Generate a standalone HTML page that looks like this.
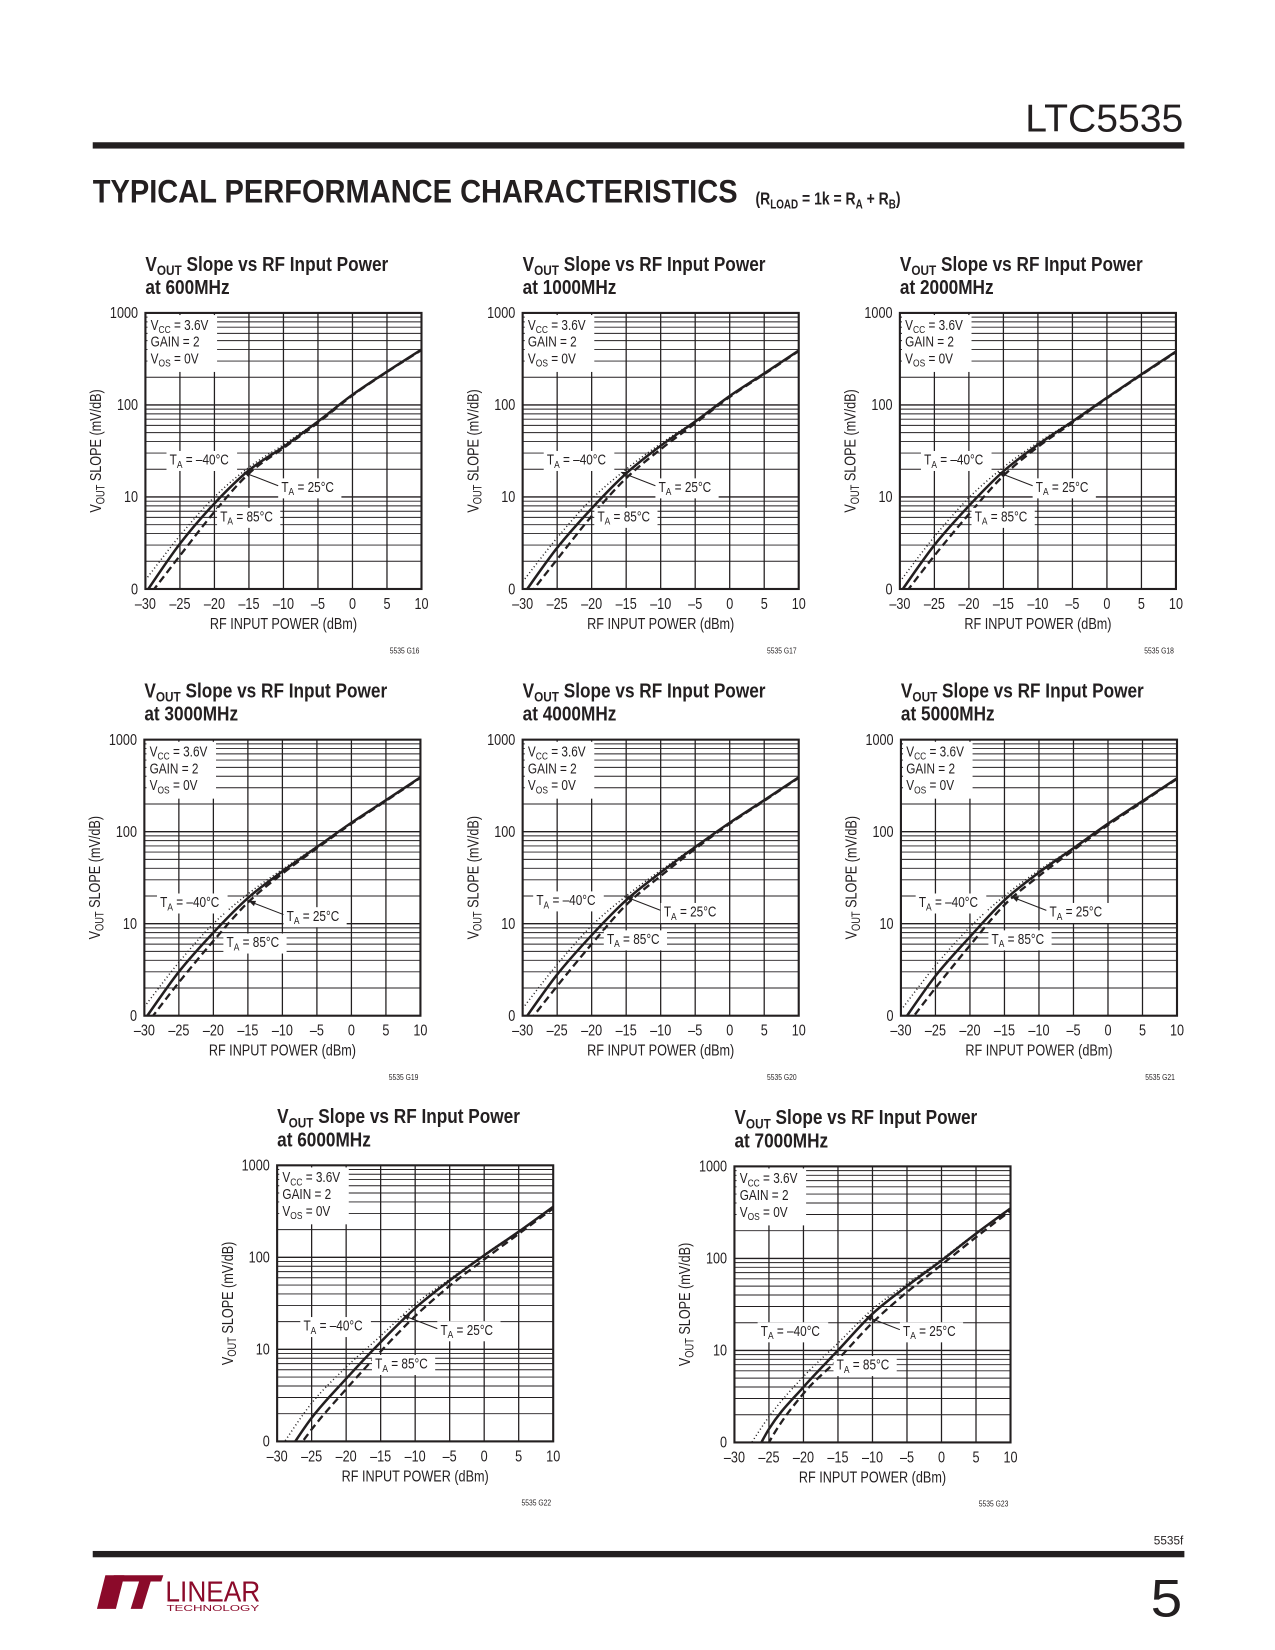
<!DOCTYPE html>
<html><head><meta charset="utf-8">
<style>
html,body{margin:0;padding:0;background:#fff;}
svg{display:block;}
text{font-family:"Liberation Sans",sans-serif;fill:#231f20;}
</style></head>
<body>
<svg id="page" width="1275" height="1650" viewBox="0 0 1210 1566" preserveAspectRatio="none" xmlns="http://www.w3.org/2000/svg">
<text x="1123" y="125" text-anchor="end" font-size="37" textLength="150" lengthAdjust="spacingAndGlyphs" fill="#231f20">LTC5535</text>
<rect x="88" y="135" width="1036" height="6" fill="#231f20"/>
<text x="88" y="192" font-size="31" font-weight="bold" textLength="612" lengthAdjust="spacingAndGlyphs">TYPICAL PERFORMANCE CHARACTERISTICS</text>
<g transform="translate(717 194) scale(0.78 1)">
<text x="0" y="0" font-size="17" font-weight="bold">(R<tspan font-size="12" dy="4">LOAD</tspan><tspan dy="-4"> = 1k = R</tspan><tspan font-size="12" dy="4">A</tspan><tspan dy="-4"> + R</tspan><tspan font-size="12" dy="4">B</tspan><tspan dy="-4">)</tspan></text>
</g>
<g id="charts"></g>
<text x="1123" y="1466" text-anchor="end" font-size="11" textLength="28" lengthAdjust="spacingAndGlyphs">5535f</text>
<rect x="88" y="1472" width="1036" height="6" fill="#231f20"/>
<g>
<path d="M100 1495 L118 1495 L110 1527 L92 1527 Z" fill="#8b0a2a"/>
<path d="M108 1495 L155 1495 L153 1501 L143 1501 L135 1527 L124 1527 L132 1501 L106 1501 Z" fill="#8b0a2a"/>
<text x="157" y="1520" font-size="27" textLength="90" lengthAdjust="spacingAndGlyphs" style="fill:#8b0a2a">LINEAR</text>
<text x="158" y="1529" font-size="8" textLength="88" lengthAdjust="spacingAndGlyphs" style="fill:#8b0a2a">TECHNOLOGY</text>
</g>
<text x="1122" y="1534" text-anchor="end" font-size="50" textLength="30" lengthAdjust="spacingAndGlyphs">5</text>
</svg>
<script>
const NS="http://www.w3.org/2000/svg";
const xPower=[-30,-25,-20,-15,-10,-5,0,5,10];
const xTicks=[-30,-25,-20,-15,-10,-5,0,5,10];
const yTickVals=[1,10,100,1000];
const yTickLabels=["0","10","100","1000"];
const freqs=["600MHz","1000MHz","2000MHz","3000MHz","4000MHz","5000MHz","6000MHz","7000MHz"];
const codes=["5535 G16","5535 G17","5535 G18","5535 G19","5535 G20","5535 G21","5535 G22","5535 G23"];
// slope values (mV/dB): 25°C solid, -40°C dotted, 85°C dashed
const s25=[
[0.9,3.1,8.5,19.5,35,66,129,230,400],
[0.85,2.8,7.5,18,36,66,125,220,390],
[0.9,3.0,8,19,37,66,120,215,380],
[0.9,3.0,8,19,37,68,125,220,390],
[0.85,2.8,7.5,18,36,68,125,220,390],
[0.8,2.7,7.2,18,36,66,122,215,380],
[0.5,1.8,4.8,12,28,56,105,190,355],
[0.25,1.4,4.0,10,25,50,95,186,350]];
const sM40=[
[1.25,3.8,10,21,37,67,130,231,400],
[1.2,3.6,9.5,20,38,67,126,221,390],
[1.2,3.7,9.8,21,39,67,121,216,380],
[1.25,3.8,10,21,39,69,126,221,390],
[1.2,3.6,9.5,20,38,69,126,221,390],
[1.15,3.5,9.2,20,38,67,123,216,380],
[0.75,2.6,6.4,14,31,58,107,192,356],
[0.5,1.9,5.2,12,28,53,98,188,352]];
const s85=[
[0.75,2.3,6.9,18,34,64,127,228,395],
[0.7,2.1,6.2,16,33,63,122,216,385],
[0.75,2.3,6.5,17,35,64,118,212,375],
[0.75,2.3,6.5,17,35,66,122,216,385],
[0.7,2.1,6,16,33,65,122,216,385],
[0.65,2.0,5.8,16,33,63,118,210,375],
[0.4,1.35,3.7,9.5,23,49,95,180,340],
[0.15,1.0,3.4,8,20,43,85,170,330]];
const frames=[[138,297],[496,297],[854,297],[137,702],[496,702],[855,702],[263,1106],[697,1107]];
const labelPos=[
[23,144,129,170,71,198],[23,144,129,170,71,198],[23,144,129,170,71,198],
[15,159,135,172,78,197],[13,157,134,168,80,194],[17,159,141,168,86,194],
[25,157,155,161,93,193],[25,161,160,161,97,193]];
const W=262,H=262,SX=0.8;
function el(tag,attrs,parent){const e=document.createElementNS(NS,tag);for(const k in attrs)e.setAttribute(k,attrs[k]);parent.appendChild(e);return e;}
function txt(parent,x,y,size,anchor,html,bold,sx){const gg=el("g",{transform:`translate(${x} ${y}) scale(${sx||SX} 1)`},parent);
 const e=el("text",{x:0,y:0,"font-size":size,"text-anchor":anchor||"start"},gg);if(bold)e.setAttribute("font-weight","bold");e.innerHTML=html;return e;}
function pathFrom(pts){let d="M"+pts[0][0].toFixed(2)+" "+pts[0][1].toFixed(2);
for(let i=0;i<pts.length-1;i++){const p0=pts[Math.max(0,i-1)],p1=pts[i],p2=pts[i+1],p3=pts[Math.min(pts.length-1,i+2)];
const c1=[p1[0]+(p2[0]-p0[0])/6,p1[1]+(p2[1]-p0[1])/6],c2=[p2[0]-(p3[0]-p1[0])/6,p2[1]-(p3[1]-p1[1])/6];
d+=" C"+c1[0].toFixed(2)+" "+c1[1].toFixed(2)+" "+c2[0].toFixed(2)+" "+c2[1].toFixed(2)+" "+p2[0].toFixed(2)+" "+p2[1].toFixed(2);}return d;}
const root=document.getElementById("charts");
frames.forEach((f,ci)=>{
 const L=f[0],T=f[1],B=T+H,R=L+W;
 const xs=v=>L+(v+30)/40*W;
 const ys=v=>B-Math.log10(v)/3*H;
 const g=el("g",{},root);
 
 
 const t=txt(g,L,T-40,19,"start",'V<tspan font-size="13" dy="4">OUT</tspan><tspan dy="-4"> Slope vs RF Input Power</tspan>',true,0.86);
 
 
 const t2=txt(g,L,T-18,19,"start","at "+freqs[ci],true,0.86);
 
 
 const cid="clip"+ci;
 const cp=el("clipPath",{id:cid},g);el("rect",{x:L,y:T,width:W,height:H},cp);
 for(let d=0;d<3;d++)for(let m=1;m<=10;m++){const v=Math.pow(10,d)*m;if(m===10&&d<2)continue;
  const ln=el("line",{x1:L,x2:R,y1:ys(v),y2:ys(v),stroke:"#231f20","stroke-width":m===1?1.3:0.9},g);
  
  }
 xTicks.forEach(v=>{const ln=el("line",{x1:xs(v),x2:xs(v),y1:T,y2:B,stroke:"#231f20","stroke-width":1.2},g);
  
  });
 el("rect",{x:L,y:T,width:W,height:H,fill:"none",stroke:"#231f20","stroke-width":2},g);
 el("rect",{x:L+2,y:T+2,width:66,height:54,fill:"#fff"},g);
 const lg=txt(g,L+5,T+16,14,"start",'V<tspan font-size="10" dy="3">CC</tspan><tspan dy="-3"> = 3.6V</tspan>');
 
 
 txt(g,L+5,T+32,14,"start","GAIN = 2");
 txt(g,L+5,T+48,14,"start",'V<tspan font-size="10" dy="3">OS</tspan><tspan dy="-3"> = 0V</tspan>');
 const series=[[sM40[ci],"1 2.5",1.4,"series-minus40c"],[s85[ci],"7 4",2.2,"series-85c"],[s25[ci],"",2.4,"series-25c"]];
 series.forEach(s=>{const pts=xPower.map((x,i)=>[xs(x),ys(s[0][i])]);
  const p=el("path",{d:pathFrom(pts),fill:"none",stroke:"#231f20","stroke-width":s[2],"stroke-dasharray":s[1],"clip-path":"url(#"+cid+")"},g);
  
  });
 const lp=labelPos[ci];
 const lab=(x,y,val,w,name)=>{el("rect",{x:L+x-3,y:T+y-13,width:w+5,height:19,fill:"#fff"},g);
  const e=txt(g,L+x,T+y,14,"start",'T<tspan font-size="10" dy="3">A</tspan><tspan dy="-3"> = '+val+'</tspan>');
  
  };
 lab(lp[0],lp[1],"–40°C",62,"label-minus40c");lab(lp[2],lp[3],"25°C",55,"label-25c");lab(lp[4],lp[5],"85°C",55,"label-85c");
 el("line",{x1:L+lp[2]-3,y1:T+lp[3]-6,x2:L+lp[2]-34,y2:T+lp[3]-18,stroke:"#231f20","stroke-width":1},g);
 el("path",{d:`M${L+lp[2]-36} ${T+lp[3]-19} l7 0 l-2 5 z`,fill:"#231f20"},g);
 yTickVals.forEach((v,i)=>{const e=txt(g,L-7,ys(v)+5,15,"end",yTickLabels[i]);
  
  });
 xTicks.forEach(v=>{const e=txt(g,xs(v),B+19,15,"middle",v<0?"–"+(-v):String(v));
  
  });
 const xt=txt(g,L+W/2,B+38,15,"middle","RF INPUT POWER (dBm)");
 
 
 const yg=el("g",{transform:`translate(${L-42} ${T+H/2}) rotate(-90) scale(${SX} 1)`},g);
 const yt=el("text",{x:0,y:0,"font-size":15,"text-anchor":"middle"},yg);
 
 
 yt.innerHTML='V<tspan font-size="11" dy="3">OUT</tspan><tspan dy="-3"> SLOPE (mV/dB)</tspan>';
 const cd=txt(g,R-2,B+61,8,"end",codes[ci]);
 
 
});
</script>
</body></html>
